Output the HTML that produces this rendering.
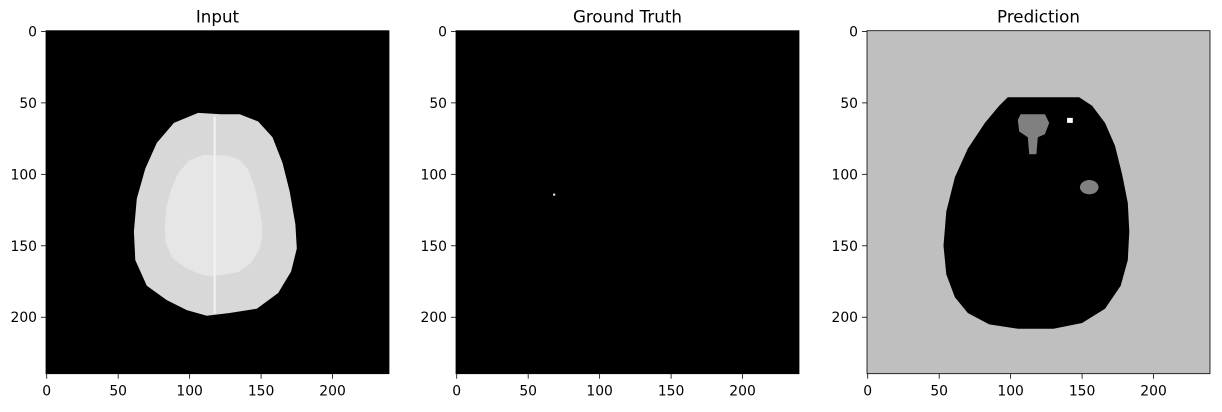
<!DOCTYPE html>
<html><head><meta charset="utf-8"><style>
body{margin:0;background:#fff;font-family:"Liberation Sans","DejaVu Sans",sans-serif}
svg text{font-family:"DejaVu Sans","Liberation Sans",sans-serif;fill:#000}
</style></head><body>
<svg id="fig" width="1222" height="407"></svg>
<script>
const titles=["Input","Ground Truth","Prediction"];
const ticks=[0,50,100,150,200];
const imgSize=240;
const inputOutline=[[106,57],[122,58],[135,58],[148,63],[158,74],[165,92],[170,112],[174,135],[175,152],[171,168],[162,183],[147,194],[128,197],[112,199],[98,195],[84,188],[70,178],[62,160],[61,140],[63,117],[69,96],[77,78],[89,64]];
const predOutline=[[98,46],[148,46],[157,52],[166,64],[173,80],[178,100],[182,120],[183,140],[182,160],[177,178],[166,194],[150,204],[130,208],[105,208],[85,205],[70,197],[61,186],[55,170],[53,150],[55,126],[61,102],[70,82],[82,64],[92,52]];
const gtPoints=[[68,114]];
const predBlob=[[107,58],[124,58],[127,64],[124,72],[119,74],[118,86],[113,86],[112,74],[106,70],[105,62]];
const predSpot=[[155,109,5]];
const predWhite=[[142,63]];
const lefts=[46,456,867],axTop=30.7,W=343;
const s=W/imgSize;
const svg=document.getElementById('fig');
const NS="http://www.w3.org/2000/svg";
function mk(t,a,p){const e=document.createElementNS(NS,t);for(const k in a)e.setAttribute(k,a[k]);(p||svg).appendChild(e);return e;}
function poly(pts,L){return pts.map(p=>(L+(p[0]+0.5)*s).toFixed(1)+","+(axTop+(p[1]+0.5)*s).toFixed(1)).join(" ");}
titles.forEach((t,i)=>{
 const L=lefts[i];
 const g=mk('g',{});
 
 
 const bg=mk('rect',{x:L,y:axTop,width:W,height:W,fill:i==2?'#bfbfbf':'#000'},g);
 
 
 if(i==0){
  const b=mk('polygon',{points:poly(inputOutline,L),fill:'#d8d8d8'},g);
  
  
  const inner=inputOutline.map(p=>[115+(p[0]-115)*0.6,130+(p[1]-130)*0.6]);
  mk('polygon',{points:poly(inner,L),fill:'#e6e6e6'},g);
  mk('line',{x1:L+118*s,y1:axTop+60*s,x2:L+118*s,y2:axTop+198*s,stroke:'#f4f4f4','stroke-width':2},g);
 }
 if(i==1){gtPoints.forEach(p=>{const r=mk('rect',{x:L+p[0]*s,y:axTop+p[1]*s,width:2,height:2,fill:'#fff'},g);});}
 if(i==2){
  const b=mk('polygon',{points:poly(predOutline,L),fill:'#000'},g);
  
  
  const bl=mk('polygon',{points:poly(predBlob,L),fill:'#808080'},g);
  
  
  predSpot.forEach(p=>{const c=mk('ellipse',{cx:L+(p[0]+0.5)*s,cy:axTop+(p[1]+0.5)*s,rx:p[2]*s*1.3,ry:p[2]*s,fill:'#808080'},g);});
  predWhite.forEach(p=>{const c=mk('rect',{x:L+(p[0]-2)*s,y:axTop+(p[1]-2)*s,width:4*s,height:3.5*s,fill:'#fff'},g);});
 }
 mk('rect',{x:L,y:axTop,width:W,height:W,fill:'none',stroke:'#000','stroke-width':0.8},g);
 const tt=mk('text',{x:L+W/2,y:axTop-8,'text-anchor':'middle',style:'font-size:16.7px'},g);tt.textContent=t;
 
 
 ticks.forEach(v=>{
  const px=L+(v+0.5)*s,py=axTop+(v+0.5)*s;
  mk('line',{x1:px,y1:axTop+W,x2:px,y2:axTop+W+5,stroke:'#000','stroke-width':0.8},g);
  const xt=mk('text',{x:px,y:axTop+W+22,'text-anchor':'middle',style:'font-size:13.9px'},g);xt.textContent=v;
  
  
  mk('line',{x1:L-5,y1:py,x2:L,y2:py,stroke:'#000','stroke-width':0.8},g);
  const yt=mk('text',{x:L-9,y:py+5,'text-anchor':'end',style:'font-size:13.9px'},g);yt.textContent=v;
  
  
 });
});
</script>
</body></html>
